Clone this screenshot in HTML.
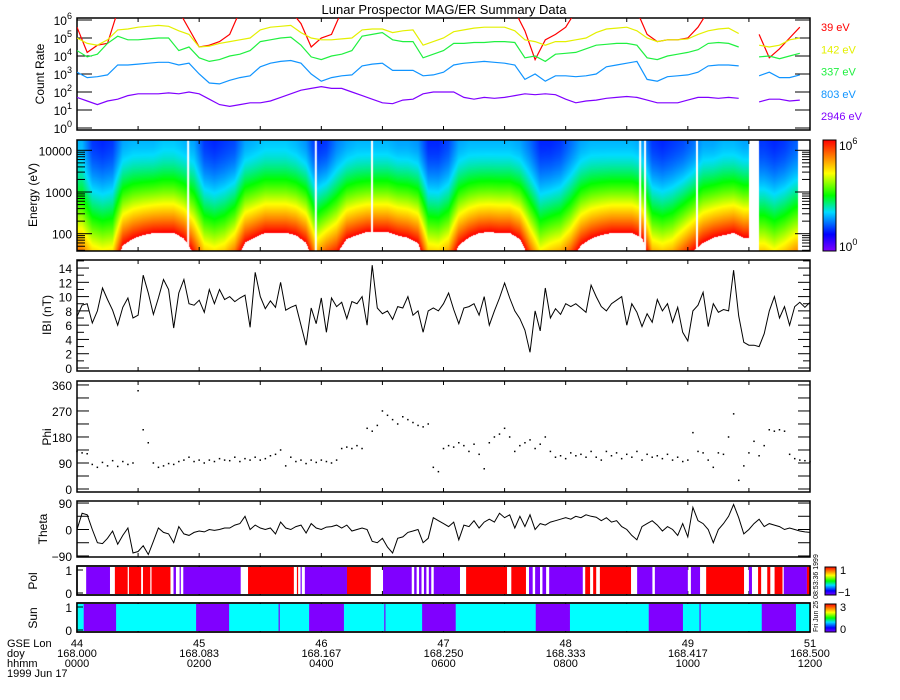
<!DOCTYPE html>
<html><head><meta charset="utf-8"><style>
body{margin:0;background:#fff;width:900px;height:700px;overflow:hidden;position:relative}
canvas,svg{position:absolute;left:0;top:0}
text{font-family:"Liberation Sans",sans-serif}
</style></head><body>
<canvas id="spec" width="900" height="700"></canvas>
<svg id="chart" width="900" height="700" xmlns="http://www.w3.org/2000/svg">
<defs>
<linearGradient id="cbar" x1="0" y1="1" x2="0" y2="0">
<stop offset="0" stop-color="rgb(128,0,255)"/><stop offset="0.15" stop-color="rgb(0,0,255)"/><stop offset="0.35" stop-color="rgb(0,220,255)"/><stop offset="0.5" stop-color="rgb(0,255,0)"/><stop offset="0.7" stop-color="rgb(255,255,0)"/><stop offset="0.85" stop-color="rgb(255,128,0)"/><stop offset="1" stop-color="rgb(255,0,0)"/>
</linearGradient>
<clipPath id="clipCount"><rect x="77" y="18" width="733" height="112"/></clipPath>
</defs>
<text x="444" y="14" text-anchor="middle" font-size="13" fill="#000">Lunar Prospector MAG/ER Summary Data</text>
</svg>
<script>
// ---- data (10-minute samples, hour = i/6) ----
const red39 = [5.6,4.2,4.6,4.7,6.5,6.5,6.5,6.5,6.5,6.5,6.5,5.5,4.5,4.6,4.8,5.2,6.5,6.5,6.5,6.5,6.5,6.5,5.8,4.5,5.0,5.2,6.5,6.5,6.5,6.5,6.5,6.5,6.5,6.5,6.5,6.5,6.5,6.5,6.5,6.5,6.5,6.5,6.5,6.5,5.4,3.8,4.9,5.2,5.6,6.5,6.5,6.5,6.5,6.5,6.5,6.5,5.2,4.8,4.9,4.9,5.0,5.6,6.5,6.5,6.5,6.5,null,5.2,3.9,4.4,5.0,5.6];
const yellow142 = [5.0,4.7,4.6,4.9,5.45,5.5,5.6,5.65,5.7,5.65,5.4,5.2,4.5,4.55,4.7,4.8,4.9,5.0,5.45,5.6,5.65,5.7,5.3,5.0,4.9,4.9,4.95,5.0,5.45,5.5,5.5,5.3,5.4,5.45,4.6,4.8,5.0,5.35,5.45,5.55,5.6,5.6,5.6,5.4,4.9,4.8,4.6,4.8,4.8,4.9,5.0,5.3,5.5,5.55,5.6,5.4,5.0,4.8,4.9,4.9,4.95,5.2,5.4,5.5,5.55,5.25,null,4.6,4.5,4.6,4.9,5.0];
const green337 = [4.3,3.95,4.1,4.7,5.1,4.9,4.9,4.95,5.0,5.0,4.3,4.5,3.9,3.7,3.8,4.0,4.1,4.3,4.8,4.9,5.0,5.05,4.6,3.95,3.8,4.0,4.1,4.3,5.1,5.2,5.3,4.9,4.8,4.8,3.9,4.1,4.3,4.7,4.7,4.75,4.75,4.8,4.8,4.75,3.9,4.0,3.7,4.1,4.15,4.2,4.4,4.6,4.65,4.7,4.7,4.6,3.9,3.8,4.0,4.1,4.2,4.35,4.7,4.75,4.7,4.5,null,3.95,4.0,3.85,4.0,4.15];
const blue803 = [3.1,2.8,2.85,2.95,3.5,3.5,3.55,3.6,3.65,3.65,3.5,3.6,3.0,2.5,2.45,2.65,2.8,2.9,3.4,3.6,3.7,3.75,3.6,3.0,2.6,2.8,2.9,2.95,3.45,3.55,3.6,3.2,3.2,3.2,2.9,2.95,3.1,3.5,3.6,3.65,3.7,3.65,3.6,3.5,2.7,3.0,2.6,2.9,2.9,2.85,2.9,3.0,3.4,3.5,3.6,3.7,2.7,2.6,2.85,2.9,2.95,3.1,3.45,3.5,3.5,3.45,null,2.9,3.1,2.8,2.8,2.95];
const purple2946 = [1.7,1.5,1.3,1.5,1.6,1.8,1.9,1.9,1.9,1.95,1.9,2.0,1.9,1.6,1.3,1.2,1.3,1.4,1.4,1.5,1.7,1.9,2.1,2.2,2.3,2.2,2.2,2.0,1.8,1.6,1.4,1.35,1.55,1.6,1.9,2.0,2.0,2.0,1.7,1.6,1.7,1.65,1.7,1.8,1.9,1.85,1.9,1.85,1.6,1.4,1.5,1.55,1.65,1.7,1.75,1.7,1.55,1.4,1.4,1.4,1.55,1.7,1.7,1.65,1.7,1.65,null,1.45,1.6,1.6,1.5,1.55];
const energyLabels = ['39 eV','142 eV','337 eV','803 eV','2946 eV'];
// spectrogram: log10 count at lowest (39 eV) and highest (~17 keV) channel
const specLow = [5.2,4.5,4.3,4.4,6.4,6.9,7.2,7.4,7.4,7.4,6.9,5.8,4.6,4.4,4.6,5.2,6.6,7.0,7.4,7.4,7.4,7.2,6.6,4.8,5.4,5.8,6.9,7.2,7.5,7.5,7.5,7.2,7.0,6.6,4.6,4.5,4.9,6.4,7.0,7.4,7.5,7.4,7.4,6.9,5.4,4.3,4.6,4.8,5.4,6.4,6.9,7.2,7.4,7.4,7.4,7.0,4.8,4.6,4.8,5.4,6.0,6.6,7.0,7.2,7.4,7.0,null,4.6,4.3,4.6,5.0,5.2];
const specHigh = [1.9,1.2,1.1,1.2,1.8,1.9,1.9,1.9,2.0,2.0,1.9,1.8,1.2,1.1,1.2,1.3,1.8,1.9,2.0,2.0,2.0,1.9,1.7,1.1,1.2,1.6,1.8,1.9,1.9,1.9,1.9,1.8,1.8,1.7,1.1,1.1,1.3,1.8,1.9,1.9,1.9,1.9,1.9,1.8,1.5,1.1,1.1,1.2,1.5,1.8,1.9,1.9,1.9,1.9,1.9,1.8,1.2,1.1,1.2,1.3,1.5,1.8,1.8,1.9,1.9,1.8,null,1.2,1.1,1.2,1.4,1.5];
const specGapHours = [1.82,3.91,4.83,9.22,9.30,10.15];
// 5-minute samples (hour = i/12)
const bMag = [7.2,8.8,9.0,6.3,8.0,11.2,9.6,8.1,6.0,8.5,9.8,7.0,7.4,13.0,10.5,7.5,9.8,12.4,11.0,5.6,10.5,12.4,9.0,8.8,9.5,7.8,11.0,9.0,11.0,9.6,10.0,9.3,9.8,10.2,5.7,13.4,10.0,8.3,9.4,8.5,12.0,8.1,8.5,8.8,6.0,3.2,8.4,6.2,9.8,5.0,9.8,8.6,9.2,6.9,9.3,9.0,10.0,6.0,14.4,8.4,7.6,8.0,6.8,8.6,8.4,10.0,7.4,8.0,5.0,8.0,8.4,8.0,9.0,10.5,8.2,6.2,8.4,8.6,9.0,7.4,10.0,6.0,8.0,9.8,11.9,9.8,8.0,6.9,5.3,2.2,8.0,5.2,11.2,7.0,8.3,7.5,9.0,8.6,9.0,8.4,7.8,11.6,10.0,8.6,8.0,9.0,9.5,10.0,6.0,9.0,7.8,5.8,7.6,6.4,9.6,8.0,9.0,6.4,8.5,5.0,3.8,8.0,8.8,10.6,5.8,9.0,7.8,8.2,8.0,13.7,7.3,3.6,3.2,3.2,3.0,4.8,8.0,10.0,7.0,8.6,6.0,8.6,9.2,8.5,9.2];
const phi = [130,125,122,85,75,92,80,98,78,95,85,90,340,205,160,90,75,80,88,85,95,100,110,95,100,90,100,95,105,100,98,110,95,105,100,110,100,105,115,120,135,80,110,95,100,88,100,92,100,95,90,100,140,145,140,150,140,210,200,220,270,255,240,225,250,240,230,220,215,225,75,60,140,150,145,160,150,130,155,120,70,160,180,190,210,180,130,150,160,170,140,155,180,130,110,115,105,125,115,120,110,130,110,100,130,115,125,105,120,110,130,100,120,110,115,105,120,100,110,95,100,195,130,125,100,75,125,120,180,260,30,80,125,165,115,150,205,200,205,200,120,105,100,98,95];
const theta = [0,55,50,0,-45,-48,-30,-5,-50,-20,5,-80,-75,-55,-85,-40,5,-10,-15,-45,10,-15,-20,-10,-5,-8,0,-3,0,5,5,15,20,45,0,15,5,0,5,-15,25,5,0,10,15,-12,20,5,0,8,10,15,5,15,-5,0,5,0,-40,-45,-30,-60,-80,-30,-25,-10,-5,0,-45,-30,40,30,20,10,25,-35,15,10,30,5,25,35,25,55,40,50,5,45,10,50,0,20,15,25,30,35,40,35,45,40,50,45,42,30,40,25,30,10,0,-20,-35,10,20,30,15,-5,10,0,-20,20,-25,75,30,20,0,-45,0,20,45,85,40,-15,0,20,35,10,20,15,10,0,5,0,-5,-8,-10];
// polarity segments (hours)
const polStart = [0.15,0.62,0.85,1.08,1.22,1.58,1.68,1.74,2.80,3.60,3.66,3.73,4.42,5.01,5.52,5.60,5.68,5.76,5.84,6.37,7.11,7.40,7.50,7.62,7.73,8.32,8.45,8.56,9.17,9.46,10.05,10.30,11.00,11.15,11.30,11.42,11.57,11.95];
const polEnd   = [0.54,0.83,1.05,1.20,1.53,1.62,1.70,2.68,3.55,3.62,3.68,4.42,4.81,5.48,5.56,5.64,5.72,5.80,6.27,7.04,7.35,7.46,7.58,7.68,8.28,8.40,8.50,9.07,9.42,10.00,10.20,10.92,11.05,11.20,11.35,11.55,11.95,12.0];
const polValue = [-1,1,1,1,1,-1,-1,-1,1,1,-1,-1,1,-1,-1,-1,-1,-1,-1,1,1,-1,-1,-1,-1,1,1,1,-1,-1,-1,1,-1,1,1,1,-1,1];
// shadow (sun=0) segments (hours)
const shadeStart = [0.11,1.95,3.30,3.80,5.03,5.65,7.51,9.36,10.19,11.21];
const shadeEnd   = [0.64,2.49,3.32,4.37,5.05,6.20,8.07,9.92,10.21,11.77];
const hourTicks = [0,2,4,6,8,10,12];
const lonLabels = ['44','45','46','47','48','49','51'];
const doyLabels = ['168.000','168.083','168.167','168.250','168.333','168.417','168.500'];
const hhmmLabels = ['0000','0200','0400','0600','0800','1000','1200'];

// ---- layout ----
const NS='http://www.w3.org/2000/svg';
const svg=document.getElementById('chart');
const X0=77, X1=810;
const xh=h=>X0+h*(X1-X0)/12;
const P={count:[18,130],spec:[140,251],b:[260,371],phi:[381,492],theta:[501,557],pol:[566,595],sun:[603,632]};
const yCount=v=>20+(6-v)*18;
const ySpec=le=>192-(le-3)*41.7;
const yB=v=>368-v*7.14;
const yPhi=v=>489-v*0.289;
const yTheta=v=>529.5-v*0.294;

function mk(tag,attrs,name,parent){
  const e=document.createElementNS(NS,tag);
  for(const k in attrs) e.setAttribute(k,attrs[k]);
  
  
  (parent||svg).appendChild(e);
  return e;
}
function txt(x,y,s,name,opt){
  const o=Object.assign({x:x,y:y,'font-size':12,fill:'#000'},opt||{});
  const t=mk('text',o,name);
  t.textContent=s; return t;
}
function tickL(y,len,name){mk('line',{x1:X0,y1:y,x2:X0+len,y2:y,stroke:'#000','stroke-width':1},name);}
function tickR(y,len,name){mk('line',{x1:X1,y1:y,x2:X1-len,y2:y,stroke:'#000','stroke-width':1},name);}

// ---- spectrogram canvas ----
const cv=document.getElementById('spec');const ctx=cv.getContext('2d');
const stops=[[0,128,0,255],[0.15,0,0,255],[0.35,0,220,255],[0.5,0,255,0],[0.7,255,255,0],[0.85,255,128,0],[1,255,0,0]];
function cmap(t){t=Math.max(0,Math.min(1,t));for(let k=1;k<stops.length;k++){if(t<=stops[k][0]){const a=stops[k-1],b=stops[k],f=(t-a[0])/(b[0]-a[0]);return [a[1]+f*(b[1]-a[1]),a[2]+f*(b[2]-a[2]),a[3]+f*(b[3]-a[3])];}}return [255,0,0];}
(function(){
  const y0=P.spec[0],y1=P.spec[1];
  const img=ctx.createImageData(X1-X0,y1-y0);
  for(let px=0;px<X1-X0;px++){
    const h=(px+0.5)*12/(X1-X0);
    if(h>11.8) continue;
    if(specLow[Math.floor(h*6)]==null) continue;
    const fi=h*6-0.5; let i0=Math.floor(fi), i1=i0+1; let f=fi-i0;
    i0=Math.max(0,Math.min(specLow.length-1,i0)); i1=Math.max(0,Math.min(specLow.length-1,i1));
    let lo,hi;
    if(specLow[i0]==null||specLow[i1]==null){const c=Math.floor(h*6);lo=specLow[c];hi=specHigh[c];}
    else{lo=specLow[i0]+f*(specLow[i1]-specLow[i0]);hi=specHigh[i0]+f*(specHigh[i1]-specHigh[i0]);}
    for(let py=0;py<y1-y0;py++){
      const le=3+(192-(y0+py+0.5))/41.7;
      let u=(le-1.57)/2.66;u=Math.max(0,Math.min(1,u));
      const c=hi+(lo-hi)*Math.pow(1-u,1.6);
      if(c>6) continue;
      const col=cmap(c/6);const o=(py*(X1-X0)+px)*4;
      img.data[o]=col[0];img.data[o+1]=col[1];img.data[o+2]=col[2];img.data[o+3]=255;
    }
  }
  ctx.putImageData(img,X0,y0);
  ctx.fillStyle='#fff';
  specGapHours.forEach(h=>ctx.fillRect(xh(h)-1,y0,2,y1-y0));
})();

// ---- frames and x ticks ----
for(const k in P){
  const [t,b]=P[k];
  mk('rect',{x:X0,y:t,width:X1-X0,height:b-t,fill:'none',stroke:'#000','stroke-width':1.5},k+'-frame');
  for(let h=1;h<12;h++){
    mk('line',{x1:xh(h),y1:t,x2:xh(h),y2:t+4,stroke:'#000'},k+'-xtick-top');
    mk('line',{x1:xh(h),y1:b,x2:xh(h),y2:b-4,stroke:'#000'},k+'-xtick-bottom');
  }
}

// ---- count rate panel ----
for(let d=0;d<=6;d++){
  const y=yCount(d);
  tickL(y,15,'count-ytick');tickR(y,15,'count-ytick-right');
  const t=txt(72,y+5,'10','count-tick-label',{'text-anchor':'end'});
  const s=document.createElementNS(NS,'tspan');s.setAttribute('dy','-6');s.setAttribute('font-size','9');s.textContent=String(d);t.appendChild(s);
}
txt(0,0,'Count Rate','count-y-axis-title',{transform:'translate(44,74) rotate(-90)','text-anchor':'middle'});
const seriesList=[red39,yellow142,green337,blue803,purple2946];
const seriesColors=['#ff0000','#e4f000','#20f040','#1094ff','#8000ff'];
const seriesNames=['series-39ev','series-142ev','series-337ev','series-803ev','series-2946ev'];
seriesList.forEach((arr,si)=>{
  let pts=[];
  const flush=()=>{if(pts.length>1)mk('polyline',{points:pts.join(' '),fill:'none',stroke:seriesColors[si],'stroke-width':1.2,'clip-path':'url(#clipCount)'},seriesNames[si]);pts=[];};
  arr.forEach((v,i)=>{if(v==null){flush();return;}pts.push(xh(i/6).toFixed(1)+','+yCount(v).toFixed(1));});
  flush();
  txt(821,31+si*22.3,energyLabels[si],'legend-'+seriesNames[si],{fill:seriesColors[si],'font-size':11});
});

// ---- spectrogram axes ----
for(let d=1;d<=4;d++){for(let m=1;m<=9;m++){
  const le=d+Math.log10(m);const y=ySpec(le);
  if(y<P.spec[0]||y>P.spec[1]) continue;
  const len=m===1?15:8;tickL(y,len,'spec-ytick');tickR(y,len,'spec-ytick-right');
}}
[[2,'100'],[3,'1000'],[4,'10000']].forEach(a=>txt(72,ySpec(a[0])+5,a[1],'spec-tick-label',{'text-anchor':'end'}));
txt(0,0,'Energy (eV)','spec-y-axis-title',{transform:'translate(37,195) rotate(-90)','text-anchor':'middle'});
mk('rect',{x:823,y:140,width:13,height:111,fill:'url(#cbar)',stroke:'#000','stroke-width':1},'spec-colorbar');
{const t=txt(839,150,'10','colorbar-max-label');const s=document.createElementNS(NS,'tspan');s.setAttribute('dy','-6');s.setAttribute('font-size','9');s.textContent='6';t.appendChild(s);}
{const t=txt(839,251,'10','colorbar-min-label');const s=document.createElementNS(NS,'tspan');s.setAttribute('dy','-6');s.setAttribute('font-size','9');s.textContent='0';t.appendChild(s);}

// ---- |B| panel ----
for(let v=0;v<=15;v++){const y=yB(v);const len=v%2===0?12:7;tickL(y,len,'b-ytick');tickR(y,len,'b-ytick-right');if(v%2===0&&v<=14)txt(72,y+5,String(v),'b-tick-label',{'text-anchor':'end'});}
txt(0,0,'IBI (nT)','b-y-axis-title',{transform:'translate(51,315) rotate(-90)','text-anchor':'middle'});
mk('polyline',{points:bMag.map((v,i)=>xh(i/12).toFixed(1)+','+yB(v).toFixed(1)).join(' '),fill:'none',stroke:'#000','stroke-width':1},'b-magnitude-line');

// ---- Phi panel ----
for(let v=0;v<=360;v+=45){const y=yPhi(v);tickL(y,12,'phi-ytick');tickR(y,12,'phi-ytick-right');if(v%90===0)txt(72,y+5,String(v),'phi-tick-label',{'text-anchor':'end'});}
txt(0,0,'Phi','phi-y-axis-title',{transform:'translate(51,437) rotate(-90)','text-anchor':'middle'});
phi.forEach((v,i)=>{mk('rect',{x:xh(i/12)-0.75,y:yPhi(v)-0.75,width:1.5,height:1.5,fill:'#000'},'phi-point');});

// ---- Theta panel ----
for(let v=-90;v<=90;v+=45){const y=yTheta(v);tickL(y,12,'theta-ytick');tickR(y,12,'theta-ytick-right');if(v%90===0)txt(72,y+5,v<0?'\u221290':String(v),'theta-tick-label',{'text-anchor':'end'});}
txt(0,0,'Theta','theta-y-axis-title',{transform:'translate(47,529) rotate(-90)','text-anchor':'middle'});
mk('polyline',{points:theta.map((v,i)=>xh(i/12).toFixed(1)+','+yTheta(v).toFixed(1)).join(' '),fill:'none',stroke:'#000','stroke-width':1},'theta-line');

// ---- Pol panel ----
polStart.forEach((s,i)=>{mk('rect',{x:xh(s),y:P.pol[0]+1,width:Math.max(0.8,xh(polEnd[i])-xh(s)),height:P.pol[1]-P.pol[0]-2,fill:polValue[i]>0?'#ff0000':'#8000ff'},'pol-segment');});
mk('rect',{x:X0,y:P.pol[0],width:X1-X0,height:P.pol[1]-P.pol[0],fill:'none',stroke:'#000','stroke-width':1.5},'pol-frame-top');
tickL(570,6,'pol-ytick');tickL(593,6,'pol-ytick');
txt(72,575,'1','pol-tick-label',{'text-anchor':'end'});txt(72,598,'0','pol-tick-label',{'text-anchor':'end'});
txt(0,0,'Pol','pol-y-axis-title',{transform:'translate(37,581) rotate(-90)','text-anchor':'middle'});
mk('rect',{x:825,y:567,width:11,height:28,fill:'url(#cbar)',stroke:'#000','stroke-width':1},'pol-colorbar');
txt(840,574,'1','pol-colorbar-max',{'font-size':11});txt(838,596,'\u22121','pol-colorbar-min',{'font-size':11});

// ---- Sun panel ----
mk('rect',{x:X0,y:P.sun[0]+1,width:X1-X0,height:P.sun[1]-P.sun[0]-2,fill:'#00ffff'},'sun-lit-background');
shadeStart.forEach((s,i)=>{mk('rect',{x:xh(s),y:P.sun[0]+1,width:Math.max(1,xh(shadeEnd[i])-xh(s)),height:P.sun[1]-P.sun[0]-2,fill:'#8000ff'},'sun-shadow-segment');});
mk('rect',{x:X0,y:P.sun[0],width:X1-X0,height:P.sun[1]-P.sun[0],fill:'none',stroke:'#000','stroke-width':1.5},'sun-frame-top');
tickL(607,6,'sun-ytick');tickL(630,6,'sun-ytick');
txt(72,612,'1','sun-tick-label',{'text-anchor':'end'});txt(72,635,'0','sun-tick-label',{'text-anchor':'end'});
txt(0,0,'Sun','sun-y-axis-title',{transform:'translate(37,618) rotate(-90)','text-anchor':'middle'});
mk('rect',{x:825,y:604,width:11,height:28,fill:'url(#cbar)',stroke:'#000','stroke-width':1},'sun-colorbar');
txt(840,611,'3','sun-colorbar-max',{'font-size':11});txt(840,633,'0','sun-colorbar-min',{'font-size':11});
txt(0,0,'Fri Jun 25 08:53:36 1999','timestamp',{transform:'translate(818,632) rotate(-90)','font-size':7});

// ---- bottom time labels ----
txt(7,647,'GSE Lon','gse-lon-row-label',{'font-size':11});
txt(7,657,'doy','doy-row-label',{'font-size':11});
txt(7,667,'hhmm','hhmm-row-label',{'font-size':11});
txt(7,677,'1999 Jun 17','date-label',{'font-size':11});
hourTicks.forEach((h,i)=>{
  const x=xh(h);
  txt(x,647,lonLabels[i],'gse-lon-label',{'font-size':11,'text-anchor':'middle'});
  txt(x,657,doyLabels[i],'doy-label',{'font-size':11,'text-anchor':'middle'});
  txt(x,667,hhmmLabels[i],'hhmm-label',{'font-size':11,'text-anchor':'middle'});
});
</script>
</body></html>
